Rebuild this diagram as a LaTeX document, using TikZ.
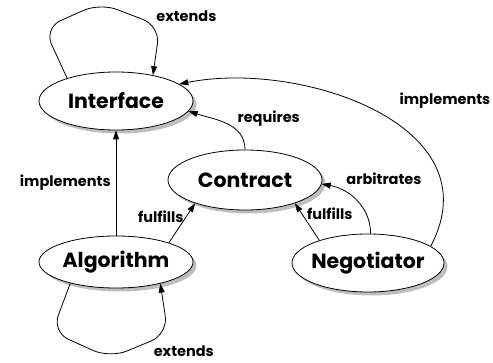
\documentclass[tikz,border=0pt]{standalone}
\usepackage{fontspec}
\setmainfont{Poppins}
\usetikzlibrary{shapes.geometric, arrows.meta, positioning, shadows}
\definecolor{cShadow}{RGB}{190,190,190}
\tikzset{
	cls/.style={ellipse, draw=black, fill=white, line width=0.8pt, minimum width=154pt, minimum height=58pt, inner xsep=-8pt, inner ysep=2pt, font=\fontsize{20.5}{24}\selectfont\bfseries, drop shadow={shadow xshift=3.5pt, shadow yshift=-3.5pt, fill=cShadow, opacity=1}},
	rel/.style={-{Triangle[length=9pt, width=6pt]}, line width=0.8pt},
	lbl/.style={font=\fontsize{14.5}{17}\selectfont\bfseries, inner sep=2pt},
}
\begin{document}
\begin{tikzpicture}[x=1pt, y=1pt]
	\useasboundingbox (0,0) rectangle (493,-363);
	% classes
	\node[cls] (iface) at (116,-101) {Interface};
	\node[cls, minimum height=60pt] (contract) at (245,-180) {Contract};
	\node[cls, minimum height=52pt] (algo) at (116,-262) {Algorithm};
	\node[cls, minimum width=152pt] (negot) at (368,-263) {Negotiator};
	% relations
	\draw[rel, rounded corners=18pt] (iface.155) -- (44,-28) -- (100,-3) -- (160,-26) node[lbl, pos=0.95, above right, yshift=1pt, xshift=-3pt] (extTop) {extends} -- (iface.35);
	\draw[rel] (algo.north) -- (iface.south) node[lbl, midway, left=3pt] (implAlgo) {implements};
	\draw[rel] (algo.20) -- (contract.205) node[lbl, pos=0.65, left] (fulAlgo) {fulfills};
	\draw[rel] (contract.north) to[out=90, in=-18] node[lbl, pos=0.35, above right] (req) {requires} (iface.-8);
	\draw[rel] (negot.155) -- (contract.-25) node[lbl, pos=0.72, right=3pt] (fulNeg) {fulfills};
	\draw[rel] (negot.85) to[out=90, in=-10] node[lbl, pos=0.7, above right, yshift=5pt] (arb) {arbitrates} (contract.-3);
	\draw[rel] (negot.15) .. controls (495,-125) and (300,-60) .. (iface.15) node[lbl, pos=0.42, anchor=south west, xshift=-2pt, yshift=15pt] (implNeg) {implements};
	\draw[rel, rounded corners=18pt] (algo.205) -- (52,-332) -- (110,-358) -- (168,-334) node[lbl, pos=0.8, below right, xshift=-5pt, yshift=-5pt] (extBot) {extends} -- (algo.334);
\end{tikzpicture}
\end{document}
